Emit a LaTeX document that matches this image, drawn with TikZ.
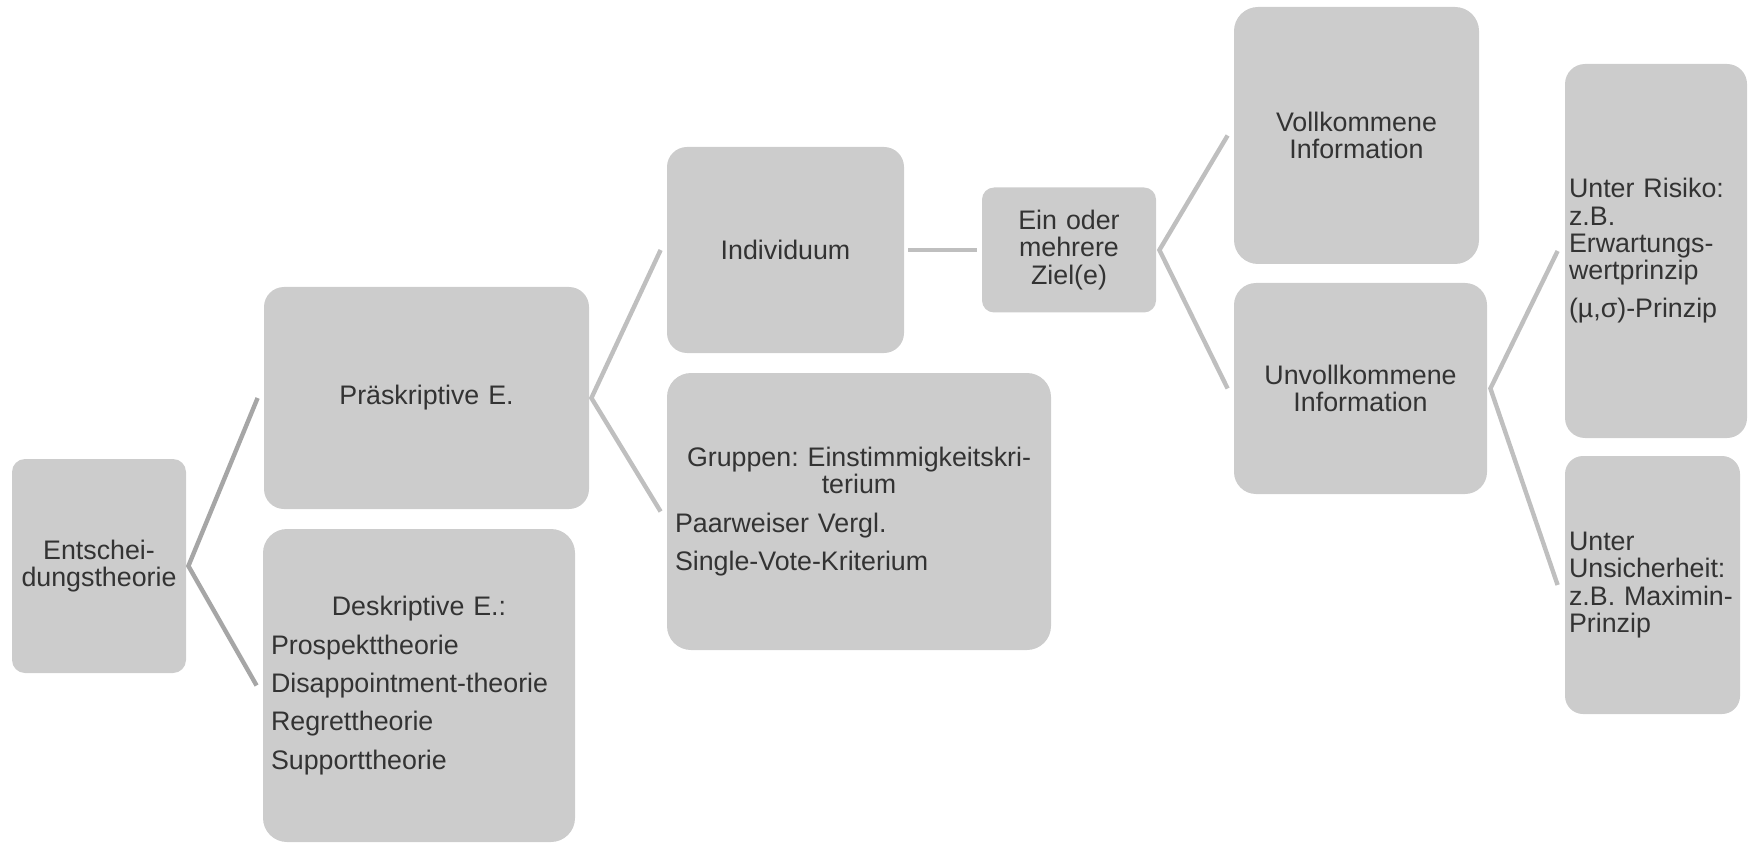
\documentclass[tikz,border=0pt]{standalone}
\usepackage{fontspec}
\setmainfont{Liberation Sans}
\usetikzlibrary{positioning}

\definecolor{boxgray}{HTML}{CCCCCC}
\definecolor{textgray}{HTML}{333333}
\definecolor{linkdark}{HTML}{A6A6A6}
\definecolor{linklight}{HTML}{BFBFBF}

\begin{document}
\frenchspacing
\begin{tikzpicture}[
            x = 0.5pt, y = -0.5pt, % pixel grid, y runs downwards
            line join = miter,
            box/.style = {
                fill = boxgray,
                text = textgray,
                rounded corners = 10pt,
                inner xsep = 1pt,
                inner ysep = 0pt,
                font = \fontsize{13.4pt}{13.6pt}\selectfont,
                execute at begin node = {\setlength{\parskip}{5.6pt}\hyphenpenalty=10000}
            },
            list/.style = {box, inner xsep = 4pt, align = left}, % left aligned boxes
            link/.style = {draw = linklight, line width = 2.2pt} % connector style
        ]

        \useasboundingbox (0,0) rectangle (1748,844);

	% level 0
	\node[box, rounded corners=6.5pt, minimum width=87pt, minimum height=107pt, text width=85pt, align=center] (ent) at (99,566) {Entschei-\\dungstheorie};

	% level 1
	\node[box, minimum width=162.5pt, minimum height=111pt, text width=160.5pt, align=center] (prae) at (426.5,398) {Präskriptive E.};
	\node[list, rounded corners=12pt, minimum width=156pt, minimum height=156.5pt, text width=148pt] (desk) at (419,685.5)
	    {{\centering Deskriptive E.:\par}Prospekttheorie\par Disappointment-theorie\par Regrettheorie\par Supporttheorie};

	% level 2
	\node[box, minimum width=118.5pt, minimum height=103pt, text width=116.5pt, align=center] (indi) at (785.5,250) {Individuum};
	\node[list, rounded corners=12pt, minimum width=192pt, minimum height=138.5pt, text width=184pt] (grup) at (859,511.5)
	    {{\centering Gruppen: Einstimmigkeitskri-\\terium\par}Paarweiser Vergl.\par Single-Vote-Kriterium};

	% level 3
	\node[box, rounded corners=6pt, minimum width=87pt, minimum height=62.5pt, text width=85pt, align=center] (ziel) at (1069,250) {Ein oder\\mehrere\\Ziel(e)};

	% level 4
	\node[box, rounded corners=12pt, minimum width=122.5pt, minimum height=128.5pt, text width=120.5pt, align=center] (voll) at (1356.5,135.5) {Vollkommene\\Information};
	\node[box, rounded corners=11pt, minimum width=126.5pt, minimum height=105.5pt, text width=124.5pt, align=center] (unvoll) at (1360.5,388.5) {Unvollkommene\\Information};

	% level 5
	\node[list, inner xsep=2pt, minimum width=91pt, minimum height=187pt, text width=87pt] (risiko) at (1656,251)
	    {Unter Risiko:\\z.B.\\Erwartungs-\\wertprinzip\par (µ,σ)-Prinzip};
	\node[list, inner xsep=2pt, rounded corners=9pt, minimum width=87.5pt, minimum height=129pt, text width=83.5pt] (unsich) at (1652.5,585)
	    {Unter\\Unsicherheit:\\z.B. Maximin-\\Prinzip};

	\draw[link, draw=linkdark] ([xshift=-3pt]prae.west) -- ([xshift=1pt]ent.east) -- ([xshift=-3pt]desk.west);
	\draw[link] ([xshift=-3pt]indi.west) -- ([xshift=1pt]prae.east) -- ([xshift=-3pt]grup.west);
	\draw[link] ([xshift=2pt]indi.east) -- ([xshift=-2.5pt]ziel.west);
	\draw[link] ([xshift=-3pt]voll.west) -- ([xshift=1.5pt]ziel.east) -- ([xshift=-3pt]unvoll.west);
	\draw[link] ([xshift=-3.5pt]risiko.west) -- ([xshift=1.5pt]unvoll.east) -- ([xshift=-3.5pt]unsich.west);

    \end{tikzpicture}
\end{document}
